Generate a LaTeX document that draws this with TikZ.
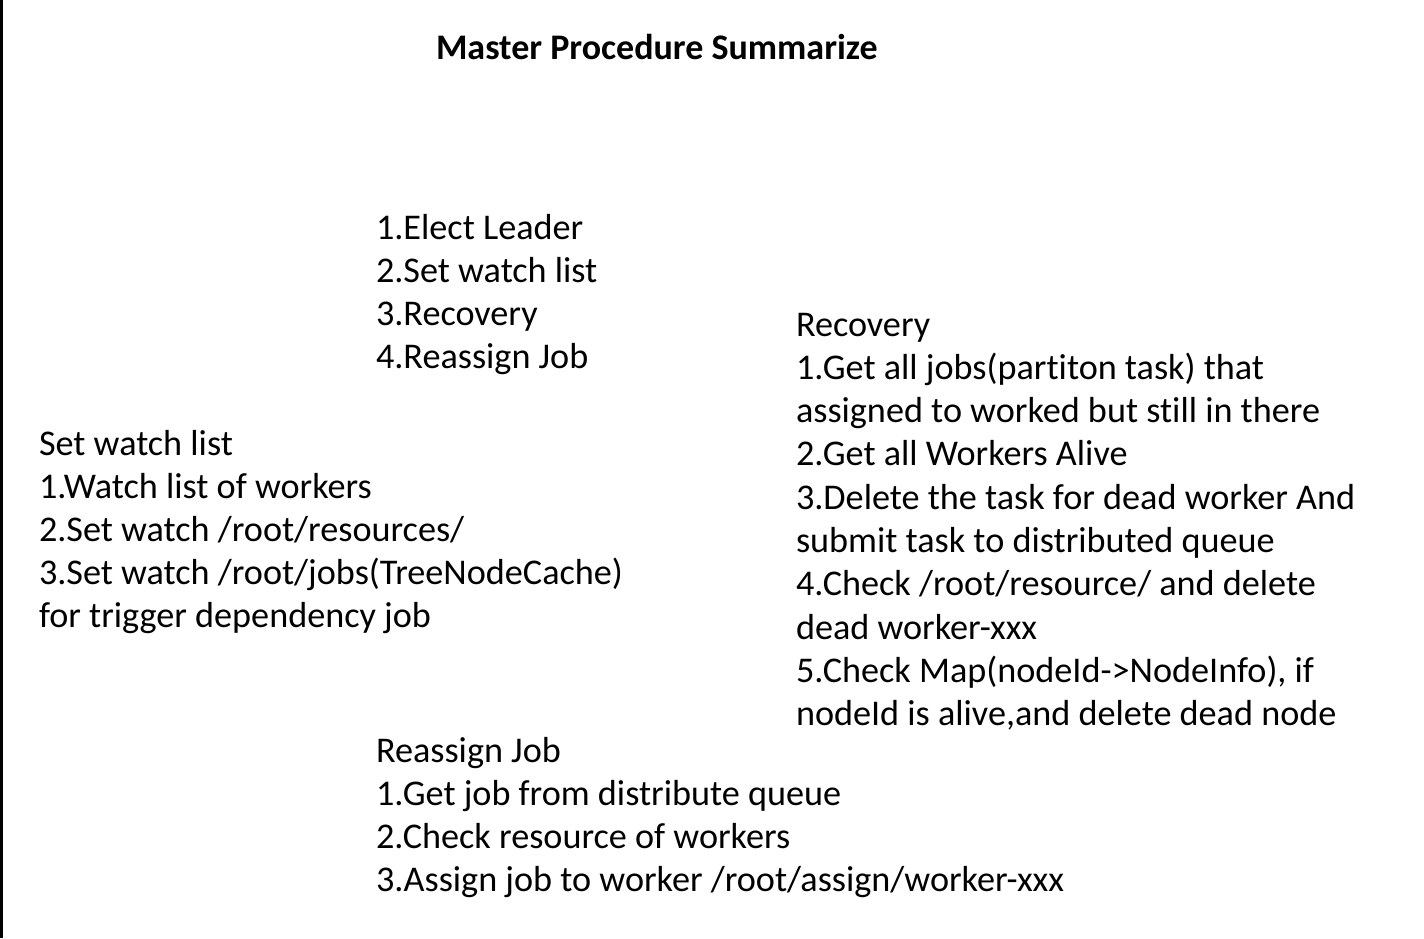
\documentclass[tikz,border=0pt]{standalone}
\usepackage{fontspec}
\setmainfont{Carlito}[Ligatures={TeX,NoCommon}]
\begin{document}
\begin{tikzpicture}[x=1pt,y=-1pt,
  txt/.style={anchor=base west, inner sep=0pt, outer sep=0pt, font=\fontsize{36.2}{43}\selectfont},
  ttl/.style={txt, font=\fontsize{36}{43}\selectfont\bfseries}]
\useasboundingbox (0,0) rectangle (1424,938);
\fill[white] (0,0) rectangle (1424,938);
\draw[line width=3pt] (1.5,0) -- (1.5,938);
% title
\node[ttl] (title) at (436,59) {Master Procedure Summarize};
% main steps
\node[txt] (a1) at (376,239) {1.Elect Leader};
\node[txt] (a2) at (376,282) {2.Set watch list};
\node[txt] (a3) at (376,325) {3.Recovery};
\node[txt] (a4) at (376,368) {4.Reassign Job};
% set watch list
\node[txt] (w0) at (39,455) {Set watch list};
\node[txt] (w1) at (39,498.2) {1.Watch list of workers};
\node[txt] (w2) at (39,541.4) {2.Set watch /root/resources/};
\node[txt] (w3) at (39,584.6) {3.Set watch /root/jobs(TreeNodeCache)};
\node[txt] (w4) at (39,627.8) {for trigger dependency job};
% recovery
\node[txt] (r0) at (796,336) {Recovery};
\node[txt] (r1) at (796,379.3) {1.Get all jobs(partiton task) that};
\node[txt] (r2) at (796,422.6) {assigned to worked but still in there};
\node[txt] (r3) at (796,465.9) {2.Get all Workers Alive};
\node[txt] (r4) at (796,509.2) {3.Delete the task for dead worker And};
\node[txt] (r5) at (796,552.5) {submit task to distributed queue};
\node[txt] (r6) at (796,595.8) {4.Check /root/resource/ and delete};
\node[txt] (r7) at (796,639.1) {dead worker-xxx};
\node[txt] (r8) at (796,682.4) {5.Check Map(nodeId->NodeInfo), if};
\node[txt] (r9) at (796,725.7) {nodeId is alive,and delete dead node};
% reassign
\node[txt] (j0) at (376,762) {Reassign Job};
\node[txt] (j1) at (376,805.2) {1.Get job from distribute queue};
\node[txt] (j2) at (376,848.4) {2.Check resource of workers};
\node[txt] (j3) at (376,891.6) {3.Assign job to worker /root/assign/worker-xxx};
\end{tikzpicture}
\end{document}
